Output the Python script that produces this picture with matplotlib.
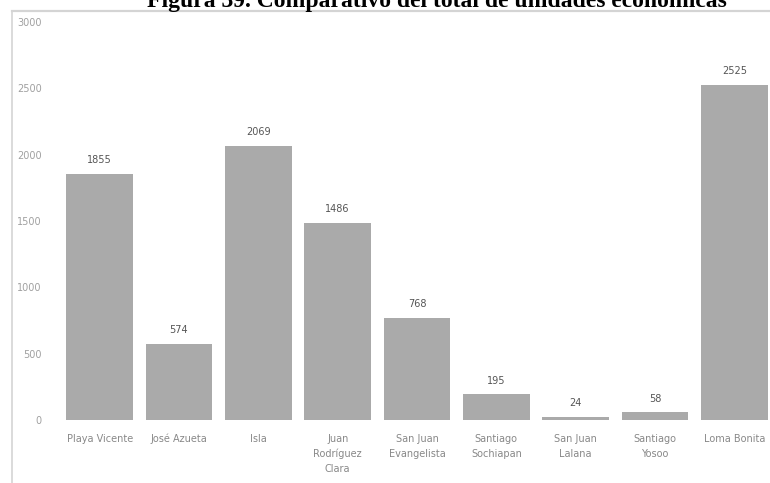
import matplotlib.pyplot as plt
from matplotlib.lines import Line2D

# Data
municipios = ['Playa Vicente', 'José Azueta', 'Isla', 'Juan\nRodríguez\nClara',
              'San Juan\nEvangelista', 'Santiago\nSochiapan', 'San Juan\nLalana',
              'Santiago\nYosoo', 'Loma Bonita']
unidades = [1855, 574, 2069, 1486, 768, 195, 24, 58, 2525]
yticks = [0, 500, 1000, 1500, 2000, 2500, 3000]

fig = plt.figure(figsize=(7.7, 4.83), dpi=100)
ax = fig.add_axes([60 / 770, 1 - 420 / 483, 714 / 770, 398 / 483])

x = range(len(municipios))
bars = ax.bar(x, unidades, width=0.84, color='#aaaaaa')
for b, v in zip(bars, unidades):
    ax.text(b.get_x() + b.get_width() / 2, v + 65, str(v), ha='center', va='bottom',
            fontsize=7, color='#555555')

ax.set_xlim(-0.5, 8.5)
ax.set_ylim(0, 3000)
ax.set_yticks(yticks)
ax.set_yticklabels([str(t) for t in yticks], fontsize=7, color='#a0a0a0')
ax.set_xticks(list(x))
ax.set_xticklabels(municipios, fontsize=7, color='#888888', linespacing=1.6)
ax.tick_params(axis='both', length=0)
ax.tick_params(axis='y', pad=13)
ax.tick_params(axis='x', pad=10)
for s in ax.spines.values():
    s.set_visible(False)

# page frame lines around the screenshot
fig.add_artist(Line2D([12 / 770, 1], [1 - 10.5 / 483, 1 - 10.5 / 483],
                      color='#d4d4d4', lw=1.6, transform=fig.transFigure))
fig.add_artist(Line2D([12 / 770, 12 / 770], [0, 1 - 10.5 / 483],
                      color='#d4d4d4', lw=1.2, transform=fig.transFigure))

# title, partly cut off at the top
fig.text(0.568, 1 - 7 / 483, 'Figura 39. Comparativo del total de unidades económicas',
         ha='center', va='baseline', fontsize=17, fontweight='bold',
         family='Liberation Serif', color='black')

fig.savefig('out.png', dpi=100)
